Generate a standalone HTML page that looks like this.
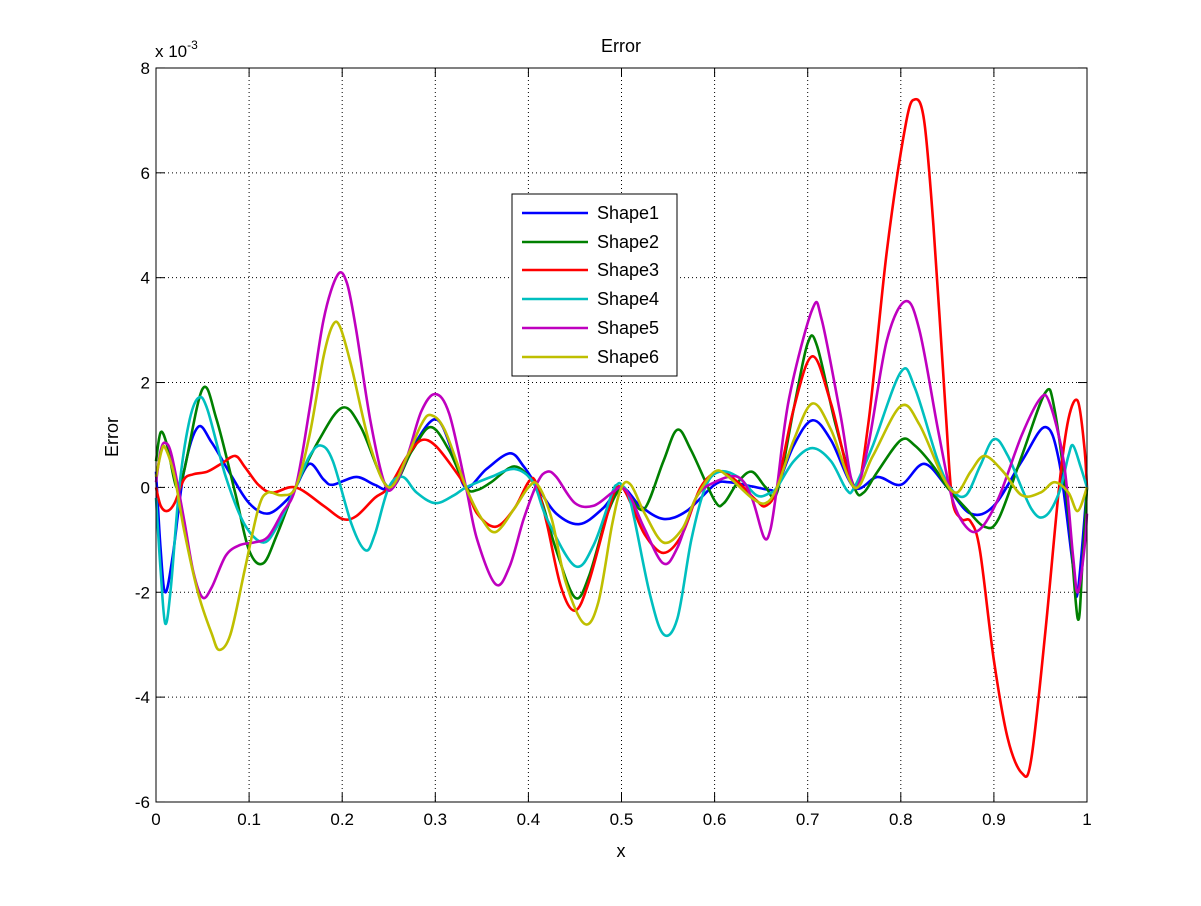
<!DOCTYPE html>
<html><head><meta charset="utf-8"><style>
body{margin:0;background:#fff;}
svg text{font-family:"Liberation Sans",Arial,sans-serif;fill:#000;}
</style></head><body>
<svg id="s" width="1201" height="901" xmlns="http://www.w3.org/2000/svg">
<rect width="1201" height="901" fill="#fff"/>
<rect x="156" y="68" width="931" height="734" fill="#fff" stroke="none"/>
<g id="grid" stroke="#000" stroke-width="1" stroke-dasharray="1,3"></g>
<g id="ticks" stroke="#000" stroke-width="1"></g>
<g id="curves" fill="none" stroke-width="2.6" stroke-linejoin="round"></g>
<rect x="156" y="68" width="931" height="734" fill="none" stroke="#000" stroke-width="1"/>
<g id="labels" font-size="17"></g>
<text x="621" y="52" font-size="18" text-anchor="middle">Error</text>
<text x="621" y="857" font-size="18" text-anchor="middle">x</text>
<text transform="translate(118,437) rotate(-90)" font-size="18" text-anchor="middle">Error</text>
<text x="155" y="57" font-size="17">x 10<tspan dy="-8" font-size="12">-3</tspan></text>
<g>
<rect x="512" y="194" width="165" height="182" fill="#fff" stroke="#000" stroke-width="1"/>
<g stroke-width="2.6">
<line x1="522" y1="213" x2="588" y2="213" stroke="#0000ff"/>
<line x1="522" y1="242" x2="588" y2="242" stroke="#008000"/>
<line x1="522" y1="270" x2="588" y2="270" stroke="#ff0000"/>
<line x1="522" y1="299" x2="588" y2="299" stroke="#00bfbf"/>
<line x1="522" y1="328" x2="588" y2="328" stroke="#bf00bf"/>
<line x1="522" y1="357" x2="588" y2="357" stroke="#bfbf00"/>
</g>
<g font-size="18">
<text x="597" y="219">Shape1</text>
<text x="597" y="248">Shape2</text>
<text x="597" y="276">Shape3</text>
<text x="597" y="305">Shape4</text>
<text x="597" y="334">Shape5</text>
<text x="597" y="363">Shape6</text>
</g>
</g>
</svg>
<script>
var NS="http://www.w3.org/2000/svg";
function X(x){return 156+931*x;}function Y(v){return 487.4-52.43*v;}
function el(p,t,a,txt){var e=document.createElementNS(NS,t);for(var k in a)e.setAttribute(k,a[k]);if(txt!=null)e.textContent=txt;document.getElementById(p).appendChild(e);return e;}
for(var i=1;i<10;i++){var x=X(i/10);el("grid","line",{x1:x,y1:68,x2:x,y2:802});}
for(var v=-4;v<=6;v+=2){var y=Y(v);el("grid","line",{x1:156,y1:y,x2:1087,y2:y});}
for(var i=0;i<=10;i++){var x=X(i/10);el("ticks","line",{x1:x,y1:802,x2:x,y2:793});el("ticks","line",{x1:x,y1:68,x2:x,y2:77});
 el("labels","text",{x:x,y:825,"text-anchor":"middle"},i==0?"0":i==10?"1":"0."+i);}
for(var v=-6;v<=8;v+=2){var y=Y(v);el("ticks","line",{x1:156,y1:y,x2:165,y2:y});el("ticks","line",{x1:1087,y1:y,x2:1078,y2:y});
 el("labels","text",{x:150,y:y+6,"text-anchor":"end"},String(v));}
function path(pts){var P=pts.map(function(p){return[X(p[0]),Y(p[1])];});var d="M"+P[0][0].toFixed(1)+","+P[0][1].toFixed(1);
for(var i=0;i<P.length-1;i++){var p0=P[i-1]||P[i],p1=P[i],p2=P[i+1],p3=P[i+2]||P[i+1];
var c1=[p1[0]+(p2[0]-p0[0])/6,p1[1]+(p2[1]-p0[1])/6],c2=[p2[0]-(p3[0]-p1[0])/6,p2[1]-(p3[1]-p1[1])/6];
d+="C"+c1[0].toFixed(1)+","+c1[1].toFixed(1)+" "+c2[0].toFixed(1)+","+c2[1].toFixed(1)+" "+p2[0].toFixed(1)+","+p2[1].toFixed(1);}return d;}
var S=[
["#0000ff",[[0,0.3],[0.005,-1.2],[0.01,-2.0],[0.018,-1.3],[0.03,0.3],[0.045,1.15],[0.06,0.85],[0.08,0.25],[0.1,-0.3],[0.12,-0.5],[0.14,-0.25],[0.15,0],[0.165,0.45],[0.18,0.15],[0.19,0.05],[0.215,0.2],[0.235,0.05],[0.25,0],[0.27,0.6],[0.3,1.3],[0.32,0.6],[0.333,0],[0.355,0.35],[0.38,0.65],[0.395,0.4],[0.41,0],[0.43,-0.5],[0.455,-0.7],[0.48,-0.4],[0.5,0],[0.52,-0.35],[0.545,-0.6],[0.57,-0.45],[0.6,0.05],[0.615,0.1],[0.64,0.02],[0.66,-0.05],[0.667,0],[0.685,0.8],[0.705,1.28],[0.725,0.9],[0.75,0],[0.775,0.2],[0.8,0.05],[0.825,0.45],[0.85,0],[0.875,-0.5],[0.9,-0.35],[0.93,0.5],[0.955,1.15],[0.97,0.5],[0.985,-1.5],[0.99,-2.0],[1.0,0]]],
["#008000",[[0,0.5],[0.005,1.05],[0.012,0.8],[0.022,0],[0.03,0.3],[0.05,1.88],[0.065,1.3],[0.085,-0.1],[0.1,-1.2],[0.115,-1.45],[0.13,-0.9],[0.15,0],[0.175,0.9],[0.2,1.52],[0.22,1.15],[0.25,0],[0.275,0.7],[0.295,1.15],[0.315,0.7],[0.333,0],[0.345,-0.05],[0.36,0.1],[0.385,0.4],[0.405,0.1],[0.415,-0.3],[0.43,-1.2],[0.45,-2.1],[0.465,-1.7],[0.485,-0.5],[0.5,0],[0.51,-0.2],[0.525,-0.4],[0.545,0.5],[0.56,1.1],[0.575,0.7],[0.6,-0.25],[0.61,-0.3],[0.625,0.1],[0.64,0.3],[0.655,0],[0.667,-0.1],[0.685,1.5],[0.7,2.75],[0.71,2.7],[0.73,1.2],[0.75,0],[0.76,-0.1],[0.775,0.3],[0.8,0.9],[0.815,0.8],[0.835,0.4],[0.85,0],[0.87,-0.4],[0.89,-0.75],[0.905,-0.6],[0.93,0.6],[0.955,1.8],[0.965,1.5],[0.98,-0.5],[0.99,-2.5],[0.995,-1.5],[1.0,0]]],
["#ff0000",[[0,0],[0.005,-0.35],[0.012,-0.45],[0.02,-0.3],[0.03,0.15],[0.04,0.25],[0.055,0.3],[0.07,0.45],[0.085,0.6],[0.095,0.4],[0.11,0.05],[0.125,-0.1],[0.15,0],[0.18,-0.35],[0.2,-0.6],[0.215,-0.55],[0.235,-0.2],[0.25,0],[0.27,0.6],[0.285,0.9],[0.3,0.8],[0.32,0.35],[0.333,0],[0.345,-0.5],[0.365,-0.75],[0.385,-0.4],[0.4,0.1],[0.408,0.1],[0.42,-0.7],[0.435,-1.9],[0.45,-2.35],[0.465,-1.8],[0.49,-0.2],[0.5,0],[0.51,-0.3],[0.525,-0.9],[0.545,-1.25],[0.565,-0.9],[0.585,0],[0.605,0.3],[0.625,0.1],[0.645,-0.25],[0.655,-0.35],[0.667,0],[0.685,1.5],[0.705,2.5],[0.725,1.6],[0.75,0],[0.765,1.2],[0.785,4.5],[0.805,6.9],[0.815,7.4],[0.825,7.0],[0.835,5.0],[0.848,1.5],[0.855,-0.2],[0.865,-0.6],[0.875,-0.65],[0.885,-1.2],[0.9,-3.3],[0.915,-4.8],[0.93,-5.45],[0.94,-5.2],[0.955,-2.8],[0.97,0],[0.98,1.3],[0.99,1.65],[0.997,0.8],[1.0,0]]],
["#00bfbf",[[0,-0.2],[0.005,-1.6],[0.01,-2.6],[0.016,-1.9],[0.025,0],[0.035,1.2],[0.045,1.7],[0.055,1.5],[0.075,0.2],[0.095,-0.7],[0.115,-1.05],[0.13,-0.75],[0.15,0],[0.165,0.6],[0.177,0.8],[0.19,0.5],[0.21,-0.7],[0.225,-1.2],[0.235,-0.9],[0.25,0],[0.265,0.2],[0.28,-0.1],[0.3,-0.3],[0.32,-0.15],[0.333,0],[0.36,0.2],[0.385,0.35],[0.405,0.1],[0.42,-0.6],[0.45,-1.5],[0.47,-1.1],[0.49,-0.1],[0.495,0.05],[0.5,0.05],[0.51,-0.3],[0.53,-2.0],[0.545,-2.8],[0.56,-2.5],[0.575,-1.0],[0.59,0],[0.605,0.3],[0.625,0.2],[0.645,-0.15],[0.658,-0.12],[0.667,0],[0.685,0.5],[0.705,0.75],[0.725,0.5],[0.742,-0.05],[0.75,0],[0.77,0.8],[0.8,2.2],[0.815,1.9],[0.84,0.5],[0.855,-0.05],[0.87,-0.15],[0.885,0.4],[0.9,0.92],[0.915,0.6],[0.94,-0.4],[0.955,-0.55],[0.97,-0.1],[0.98,0.6],[0.985,0.8],[0.993,0.4],[1.0,0]]],
["#bf00bf",[[0,0.1],[0.005,0.7],[0.01,0.85],[0.017,0.6],[0.03,-0.6],[0.04,-1.6],[0.05,-2.1],[0.06,-1.9],[0.075,-1.3],[0.09,-1.1],[0.105,-1.05],[0.12,-0.95],[0.135,-0.5],[0.15,0],[0.165,1.5],[0.18,3.2],[0.195,4.05],[0.205,3.9],[0.215,3.0],[0.23,1.3],[0.245,0.1],[0.255,0],[0.27,0.6],[0.285,1.45],[0.3,1.78],[0.315,1.4],[0.333,0],[0.345,-1.0],[0.365,-1.85],[0.38,-1.5],[0.395,-0.6],[0.41,0.1],[0.42,0.3],[0.43,0.2],[0.45,-0.3],[0.47,-0.35],[0.49,-0.1],[0.5,0],[0.51,-0.2],[0.525,-0.8],[0.545,-1.45],[0.56,-1.15],[0.58,-0.2],[0.6,0.1],[0.625,0.2],[0.64,-0.2],[0.653,-0.95],[0.66,-0.8],[0.667,0],[0.68,1.7],[0.705,3.4],[0.715,3.2],[0.735,1.4],[0.75,0],[0.765,0.8],[0.785,2.8],[0.805,3.55],[0.82,3.0],[0.84,1.1],[0.855,-0.2],[0.87,-0.75],[0.885,-0.8],[0.905,-0.2],[0.93,1.0],[0.95,1.7],[0.96,1.6],[0.975,0.5],[0.985,-1.3],[0.99,-2.0],[0.997,-1.2],[1.0,-0.5]]],
["#bfbf00",[[0,0.2],[0.006,0.7],[0.01,0.75],[0.02,0.2],[0.03,-0.8],[0.045,-2.0],[0.06,-2.8],[0.068,-3.1],[0.08,-2.8],[0.095,-1.6],[0.11,-0.4],[0.12,-0.1],[0.135,-0.15],[0.15,0],[0.165,1.0],[0.18,2.5],[0.19,3.1],[0.198,3.05],[0.21,2.3],[0.23,0.8],[0.25,0],[0.27,0.6],[0.285,1.2],[0.295,1.38],[0.31,1.1],[0.333,0],[0.35,-0.6],[0.365,-0.85],[0.385,-0.4],[0.4,0],[0.41,0.05],[0.425,-0.6],[0.44,-1.8],[0.46,-2.6],[0.475,-2.2],[0.49,-0.7],[0.5,0],[0.51,0.05],[0.525,-0.5],[0.545,-1.05],[0.565,-0.8],[0.58,-0.2],[0.6,0.3],[0.615,0.2],[0.64,-0.2],[0.655,-0.3],[0.667,0],[0.685,0.9],[0.705,1.6],[0.725,1.1],[0.75,0],[0.77,0.6],[0.8,1.55],[0.82,1.2],[0.845,0.2],[0.86,-0.1],[0.875,0.3],[0.89,0.6],[0.91,0.3],[0.93,-0.15],[0.95,-0.1],[0.965,0.1],[0.98,-0.1],[0.99,-0.45],[1.0,0]]]
];
S.forEach(function(s){el("curves","path",{d:path(s[1]),stroke:s[0]});});
</script>
</body></html>
